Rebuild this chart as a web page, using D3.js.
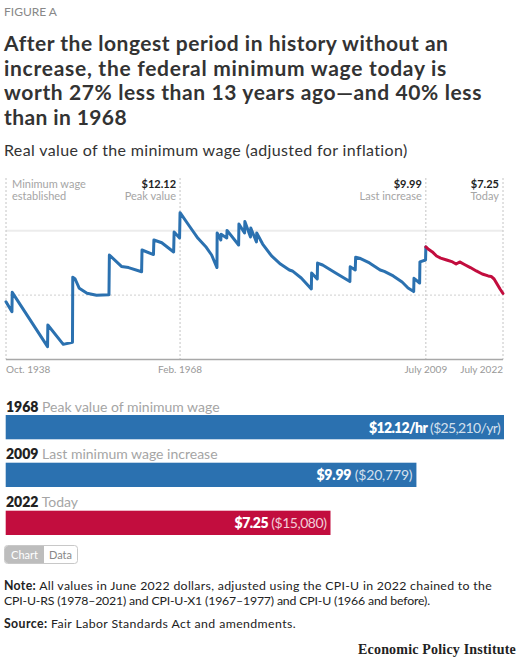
<!DOCTYPE html>
<html>
<head>
<meta charset="utf-8">
<script src="https://cdn.jsdelivr.net/npm/d3@7"></script>
<style>
  html, body { margin: 0; padding: 0; background: #fff; }
  svg { display: block; }
</style>
</head>
<body>
<svg id="chart" width="523" height="662" font-family="Lato, 'Open Sans', sans-serif"></svg>
<script>
// ---------------- data ----------------
const figureLabel = "FIGURE A";
const titleLines = [
  "After the longest period in history without an",
  "increase, the federal minimum wage today is",
  "worth 27% less than 13 years ago\u2014and 40% less",
  "than in 1968"
];
const subtitle = "Real value of the minimum wage (adjusted for inflation)";

// real value of the minimum wage, June 2022 dollars [decimal year, value]
const blueSeries = [
  [1938.75, 6.59], [1939.75, 5.97], [1939.8, 7.17], [1945.75, 3.80], [1945.8, 5.14],
  [1948.4, 3.94], [1949.95, 4.07], [1950.0, 8.11], [1950.4, 8.00], [1951.1, 7.42],
  [1952.4, 7.11], [1954.0, 6.99], [1956.1, 7.02], [1956.17, 9.49], [1958.2, 8.78],
  [1959.4, 8.71], [1961.6, 8.45], [1961.67, 9.80], [1963.6, 9.52], [1963.67, 10.42],
  [1965.0, 10.25], [1967.0, 9.68], [1967.08, 10.92], [1968.0, 10.55], [1968.08, 12.12],
  [1969.7, 11.26], [1971.1, 10.53], [1972.5, 9.97], [1973.4, 9.49], [1974.3, 8.71],
  [1974.33, 10.86], [1974.95, 10.42], [1975.0, 10.78], [1975.95, 10.55], [1976.0, 11.02],
  [1977.95, 10.11], [1978.0, 11.42], [1978.95, 10.86], [1979.0, 11.57], [1979.95, 10.61],
  [1980.0, 11.17], [1980.95, 10.30], [1981.0, 10.86], [1982.0, 10.17], [1983.5, 9.43],
  [1985.0, 8.93], [1986.5, 8.56], [1987.0, 8.50], [1988.5, 8.06], [1990.2, 7.38],
  [1990.25, 8.37], [1991.2, 8.00], [1991.25, 8.99], [1992.1, 8.87], [1994.3, 8.37],
  [1996.7, 7.84], [1996.75, 8.76], [1997.6, 8.56], [1997.67, 9.35], [1998.5, 9.27],
  [2000.0, 9.00], [2001.8, 8.56], [2002.5, 8.47], [2004.0, 8.19], [2005.5, 7.81],
  [2006.5, 7.44], [2007.45, 7.22], [2007.5, 8.04], [2008.45, 7.75], [2008.5, 9.06],
  [2009.45, 9.18], [2009.5, 9.99]
];
const redSeries = [
  [2009.5, 9.99], [2010.0, 9.83], [2010.6, 9.68], [2011.3, 9.43], [2012.0, 9.30],
  [2013.0, 9.18], [2014.0, 9.06], [2014.6, 8.93], [2015.2, 9.06], [2016.0, 8.90],
  [2017.0, 8.71], [2018.0, 8.50], [2019.0, 8.31], [2020.0, 8.19], [2020.5, 8.16],
  [2021.0, 8.00], [2021.5, 7.69], [2022.0, 7.38], [2022.5, 7.10]
];

const markerYears = [1938.75, 1968.08, 2009.5, 2022.5];
const markerValueLabels = ["", "$12.12", "$9.99", "$7.25"];
const markerNoteLines = [["Minimum wage", "established"], ["Peak value"], ["Last increase"], ["Today"]];
const xTickLabels = ["Oct. 1938", "Feb. 1968", "July 2009", "July 2022"];
const gridValues = [7, 11];
const baselineValue = 3;

const barYears = ["1968", "2009", "2022"];
const barDescriptions = ["Peak value of minimum wage", "Last minimum wage increase", "Today"];
const barHourly = ["$12.12/hr", "$9.99", "$7.25"];
const barAnnual = ["($25,210/yr)", "($20,779)", "($15,080)"];
const barDrawnValues = [12.12, 9.99, 7.90];   // bar lengths as drawn in the picture
const barColors = ["#2b71b0", "#2b71b0", "#c20d3e"];

const noteLines = [
  ["Note:", " All values in June 2022 dollars, adjusted using the CPI-U in 2022 chained to the"],
  ["", "CPI-U-RS (1978\u20132021) and CPI-U-X1 (1967\u20131977) and CPI-U (1966 and before)."]
];
const sourceLine = ["Source:", " Fair Labor Standards Act and amendments."];
const brand = "Economic Policy Institute";

// ---------------- helpers ----------------
// stretch/shrink a text's letter-spacing so it spans the given width
function fit(sel, target) {
  const node = sel.node();
  const w = node.getComputedTextLength();
  const n = node.textContent.length;
  if (n > 1) sel.attr("letter-spacing", ((target - w) / n).toFixed(3));
  return sel;
}

// ---------------- drawing ----------------
const svg = d3.select("#chart");
const BLUE = "#2b71b0", RED = "#c20d3e", DARK = "#333";

svg.append("text").attr("x", 4).attr("y", 16)
  .attr("font-size", 12).attr("fill", "#888").text(figureLabel);

const titleTargets = [444, 443, 478, 123];
titleLines.forEach((t, i) => {
  const s = svg.append("text").attr("x", 4).attr("y", 51 + i * 24.6)
    .attr("font-size", 21).attr("font-weight", 700).attr("fill", DARK).text(t);
  fit(s, titleTargets[i]);
});

fit(svg.append("text").attr("x", 4).attr("y", 156)
  .attr("font-size", 16).attr("fill", DARK).text(subtitle), 404);

// line chart
const x = d3.scaleLinear().domain([1938.75, 2022.5]).range([6, 503]);
const y = d3.scaleLinear().domain([3, 14]).range([359.5, 182.4]);

const g = svg.append("g");
g.selectAll(".grid").data(gridValues).join("line")
  .attr("x1", x.range()[0]).attr("x2", x.range()[1])
  .attr("y1", d => y(d)).attr("y2", d => y(d))
  .attr("stroke", (d, i) => i === 1 ? "#ececec" : "#cfcfcf")
  .attr("stroke-width", (d, i) => i === 1 ? 2 : 1)
  .attr("stroke-dasharray", (d, i) => i === 1 ? null : "2,2");

g.selectAll(".vline").data(markerYears).join("line")
  .attr("x1", d => x(d)).attr("x2", d => x(d))
  .attr("y1", 178).attr("y2", y(baselineValue))
  .attr("stroke", "#c4c4c4").attr("stroke-width", 1).attr("stroke-dasharray", "2,2");

g.append("line").attr("x1", x.range()[0]).attr("x2", x.range()[1])
  .attr("y1", y(baselineValue)).attr("y2", y(baselineValue))
  .attr("stroke", "#a8a8a8").attr("stroke-width", 1.5);

const line = d3.line().x(d => x(d[0])).y(d => y(d[1]));
g.append("path").datum(blueSeries).attr("d", line)
  .attr("fill", "none").attr("stroke", BLUE).attr("stroke-width", 3)
  .attr("stroke-linejoin", "round").attr("stroke-linecap", "round");
g.append("path").datum(redSeries).attr("d", line)
  .attr("fill", "none").attr("stroke", RED).attr("stroke-width", 3)
  .attr("stroke-linejoin", "round").attr("stroke-linecap", "round");

markerYears.forEach((yr, i) => {
  const first = i === 0;
  const ax = first ? x(yr) + 6 : x(yr) - 4;
  const anchor = first ? "start" : "end";
  let lineIdx = 0;
  if (markerValueLabels[i]) {
    g.append("text").attr("x", ax).attr("y", 187.5).attr("text-anchor", anchor)
      .attr("font-size", 11).attr("font-weight", 700).attr("fill", "#222")
      .text(markerValueLabels[i]);
    lineIdx = 1;
  }
  markerNoteLines[i].forEach((t, j) => {
    g.append("text").attr("x", ax).attr("y", 187.5 + (lineIdx + j) * 12)
      .attr("text-anchor", anchor).attr("font-size", 11).attr("fill", "#a5a5a5")
      .text(t);
  });
});

g.selectAll(".xlab").data(xTickLabels).join("text")
  .attr("x", (d, i) => x(markerYears[i]))
  .attr("y", 373)
  .attr("text-anchor", (d, i) => i === 0 ? "start" : (i === 3 ? "end" : "middle"))
  .attr("font-size", 10).attr("fill", "#999")
  .text(d => d);

// bars
const bx = d3.scaleLinear().domain([0, 12.12]).range([5.7, 504]);
const barTop = [415, 462.7, 510.7];
const barH = 24.3;
barYears.forEach((yr, i) => {
  const lab = svg.append("text").attr("x", 6).attr("y", barTop[i] - 3.5)
    .attr("font-size", 14);
  lab.append("tspan").attr("font-weight", 800).attr("fill", "#222").text(yr);
  lab.append("tspan").attr("fill", "#a5a5a5").text(" " + barDescriptions[i]);
});
svg.append("g").selectAll("rect").data(barDrawnValues).join("rect")
  .attr("x", bx(0)).attr("y", (d, i) => barTop[i])
  .attr("width", d => bx(d) - bx(0)).attr("height", barH)
  .attr("fill", (d, i) => barColors[i]);
const valueTargets = [131, 96, 92];
barDrawnValues.forEach((v, i) => {
  const t = svg.append("text").attr("x", bx(v) - 4).attr("y", barTop[i] + barH / 2 + 5.5)
    .attr("text-anchor", "end").attr("font-size", 14).attr("fill", "#fff");
  t.append("tspan").attr("font-weight", 800).text(barHourly[i]);
  t.append("tspan").attr("fill-opacity", 0.8).text(" " + barAnnual[i]);
  fit(t, valueTargets[i]);
});

// Chart / Data toggle
const tg = svg.append("g");
tg.append("rect").attr("x", 4.5).attr("y", 545.5).attr("width", 73).attr("height", 18)
  .attr("rx", 3).attr("fill", "#fff").attr("stroke", "#c8c8c8");
tg.append("path").attr("d", "M44,546 H8 a3,3 0 0 0 -3,3 V560 a3,3 0 0 0 3,3 H44 Z").attr("fill", "#bdbdbd");
tg.append("text").attr("x", 24.5).attr("y", 558.5).attr("text-anchor", "middle")
  .attr("font-size", 11).attr("fill", "#fff").text("Chart");
tg.append("text").attr("x", 60.5).attr("y", 558.5).attr("text-anchor", "middle")
  .attr("font-size", 11).attr("fill", "#888").text("Data");

// notes
const noteTargets = [488, 426];
noteLines.forEach((ln, i) => {
  const t = svg.append("text").attr("x", 4).attr("y", 590 + i * 14.5)
    .attr("font-size", 12.3).attr("fill", "#222");
  if (ln[0]) t.append("tspan").attr("font-weight", 700).text(ln[0]);
  t.append("tspan").text(ln[1]);
  fit(t, noteTargets[i]);
});
const st = svg.append("text").attr("x", 4).attr("y", 627.5).attr("font-size", 12.3).attr("fill", "#222");
st.append("tspan").attr("font-weight", 700).text(sourceLine[0]);
st.append("tspan").text(sourceLine[1]);
fit(st, 292);

const br = svg.append("text").attr("x", 516).attr("y", 654).attr("text-anchor", "end")
  .style("font-family", "'Liberation Serif', 'DejaVu Serif', serif")
  .attr("font-size", 14).attr("font-weight", 700).attr("fill", "#222").text(brand);
fit(br, 158);
</script>
</body>
</html>
